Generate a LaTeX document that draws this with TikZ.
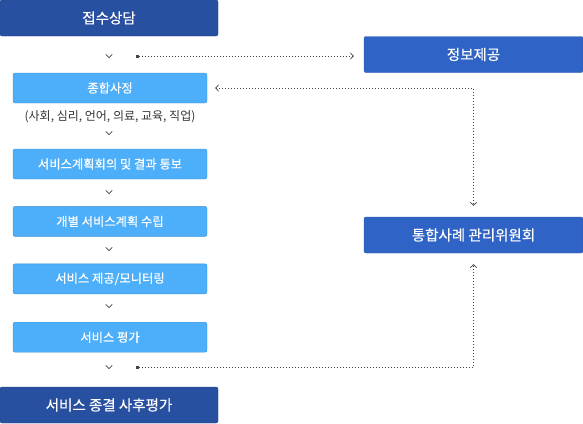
\documentclass[tikz,border=0pt]{standalone}
\usepackage{fontspec}
\setmainfont{Noto Sans CJK KR}
\newfontfamily\medfont{Noto Sans CJK KR}[FakeBold=0.4]
\usepackage{tikz}
\usetikzlibrary{arrows.meta,positioning}
\definecolor{darkblue}{HTML}{2850A0}
\definecolor{midblue}{HTML}{3063C6}
\definecolor{lightblue}{HTML}{4DAEF9}
\definecolor{markgray}{HTML}{444444}
\tikzset{
  >={Straight Barb[length=3pt,width=6.5pt,line width=0.7pt]},
  chevron/.pic={\draw[draw=markgray, line width=0.6pt] (-3.2,1.6) -- (0,-1.6) -- (3.2,1.6);}
}

\begin{document}
\begin{tikzpicture}[
  x=1pt, y=1pt,
  every node/.style={font=\fontsize{12}{14}\selectfont},
  bigbox/.style={
    rectangle,
    draw=darkblue!85!black,
    fill=darkblue,
    text=white,
    minimum width=218pt,
    minimum height=36pt,
    inner sep=0pt,
    rounded corners=2pt,
    font=\medfont\fontsize{14.5}{16}\selectfont
  },
  sidebox/.style={bigbox, draw=midblue!90!black, fill=midblue, minimum width=219pt},
  box/.style={
    rectangle,
    draw=lightblue!85!black,
    fill=lightblue,
    text=white,
    minimum width=194pt,
    minimum height=30pt,
    inner sep=0pt,
    rounded corners=2pt,
    font=\medfont\fontsize{12.3}{14}\selectfont
  },
  link/.style={draw=markgray, line width=0.7pt, dash pattern=on 0.8pt off 2.2pt},
  dotmark/.style={rectangle, fill=markgray, minimum size=3pt, inner sep=0pt}
]
\useasboundingbox (0,0) rectangle (583,-423);

% --- Main column ---
\node[bigbox] (intake) at (109,-18) {접수상담};
\node[box] (assess) at (110,-88) {종합사정};
\node[text=black!80, below=4pt of assess] (areas) {(사회, 심리, 언어, 의료, 교육, 직업)};
\node[box] (plan) at (110,-164) {서비스계획회의 및 결과 통보};
\node[box, below=27pt of plan] (indiv) {개별 서비스계획 수립};
\node[box, below=27pt of indiv] (provide) {서비스 제공/모니터링};
\node[box, below=28pt of provide] (evaluate) {서비스 평가};
\node[bigbox] (close) at (109,-405) {서비스 종결 사후평가};

% step marks
\pic at (109,-56) {chevron};
\pic at (109,-133) {chevron};
\pic at (109,-192) {chevron};
\pic at (109,-249) {chevron};
\pic at (109,-306) {chevron};
\pic at (109,-367) {chevron};

% --- Right column ---
\node[sidebox] (info) at (473.5,-54.5) {정보제공};
\node[sidebox] (committee) at (473.5,-235) {통합사례 관리위원회};

% Dotted links
\node[dotmark] (start1) at (137,-56) {};
\node[dotmark] (start2) at (137,-367) {};
\draw[link, ->, shorten >=10pt] (start1) -- (start1 -| info.west);
\draw[link, <->, shorten <=8pt, shorten >=11pt] (assess.east) -| (committee.north);
\draw[link, ->, shorten >=11pt] (start2) -| (committee.south);

\end{tikzpicture}
\end{document}
